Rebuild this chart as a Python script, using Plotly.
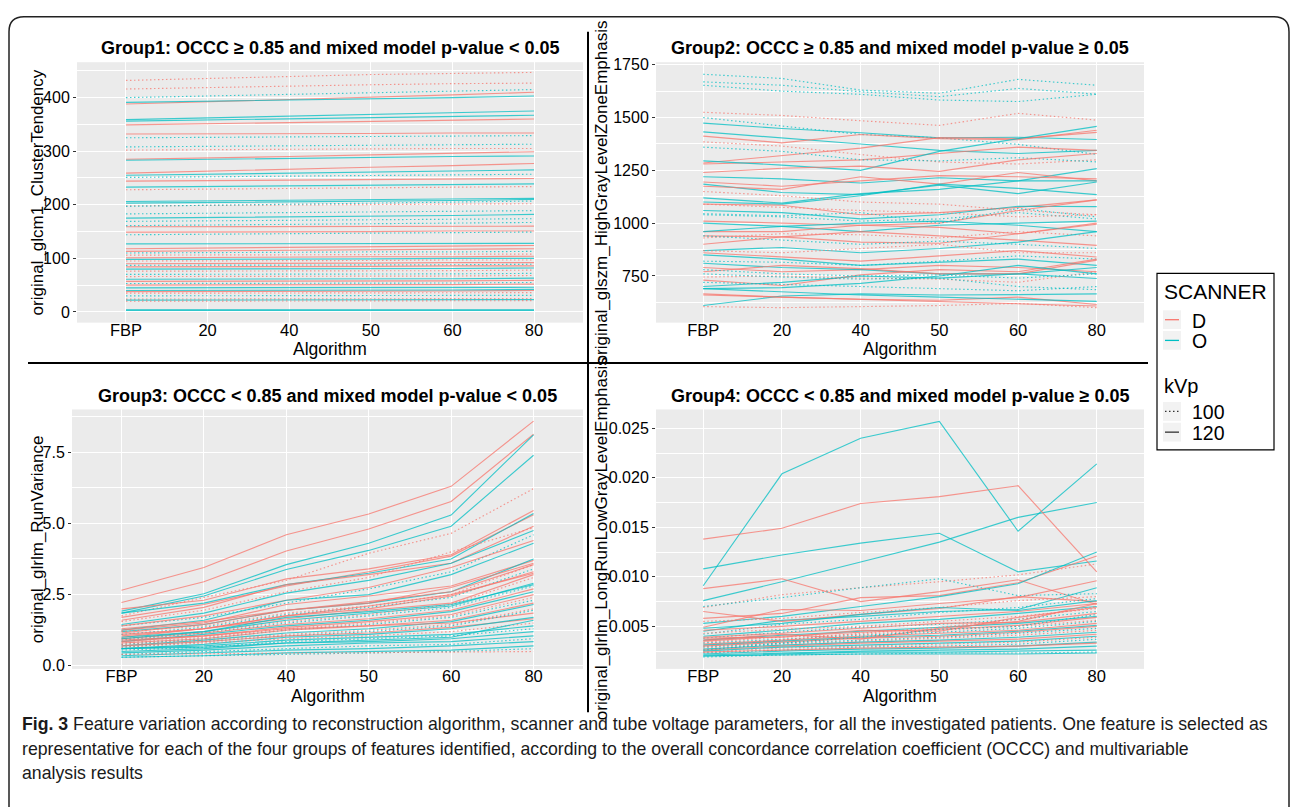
import plotly.graph_objects as go

FONT = "Liberation Sans, Arial, Helvetica, sans-serif"
W, H = 1292, 812

categories = ["FBP", "20", "40", "50", "60", "80"]
scanner_colors = {"D": "#F8766D", "O": "#00BFC4"}
kvp_dash = {"100": "1.5px,2.5px", "120": "solid"}

titles = [
    "Group1: OCCC \u2265 0.85 and mixed model p-value < 0.05",
    "Group2: OCCC \u2265 0.85 and mixed model p-value \u2265 0.05",
    "Group3: OCCC < 0.85 and mixed model p-value < 0.05",
    "Group4: OCCC < 0.85 and mixed model p-value \u2265 0.05",
]
ytitles = [
    "original_glcm1_ClusterTendency",
    "original_glszm_HighGrayLevelZoneEmphasis",
    "original_glrlm_RunVariance",
    "original_glrlm_LongRunLowGrayLevelEmphasis",
]

# ---------------- Group 1 ----------------
g1_scanner = ["D","D","O","D","O","O","O","D","D","O","O","D","D","O","D","O","O","D","O","D",
              "O","O","D","O","O","O","O","D","O","D","O","O","D","D","O","D","D","O","D","D",
              "O","D","O","D","O","D","O","D","O","D","O","D","O","D","O","D","O","D","O","O"]
g1_kvp = ["100","100","100","120","120","120","120","120","120","100","100","100","120","120","120","120","100","120","120","100",
          "120","120","100","100","100","120","100","120","100","120","100","120","120","120","100","100","120","120","100","120",
          "100","120","120","100","100","100","120","120","100","120","120","120","120","100","100","100","120","100","120","120"]
g1_values = [
    [432,436,440,443,445,447],[416,419,422,424,426,427],[400,403,406,409,412,415],[388,392,397,401,405,410],
    [391,393,396,398,400,403],[359,362,365,368,371,375],[356,358,361,363,365,367],[349,351,354,356,358,360],
    [332,332,333,333,334,334],[325,326,327,327,328,329],[308,309,310,311,312,313],[302,303,303,304,305,305],
    [285,287,290,293,296,299],[283,285,287,288,290,291],[259,263,267,270,273,277],[255,257,259,261,263,265],
    [251,252,254,255,256,257],[244,245,246,247,248,249],[233,234,235,236,237,239],[228,229,230,231,232,234],
    [206,207,208,209,210,212],[203,204,205,207,208,210],[198,199,199,200,201,202],[197,199,201,203,205,207],
    [183,184,185,186,187,189],[175,176,177,179,180,182],[169,170,171,172,173,174],[159,159,159,160,160,160],
    [161,162,163,164,165,167],[149,149,150,150,151,151],[144,145,146,147,148,149],[127,127,127,128,128,128],
    [118,119,120,121,122,124],[113,114,115,116,117,118],[110,111,111,112,112,113],[106,106,107,107,108,108],
    [101,102,102,103,103,104],[98,98,99,99,100,100],[95,95,96,96,97,97],[90,90,91,91,92,92],
    [87,87,88,88,88,89],[84,84,85,85,86,86],[80,80,81,81,81,82],[76,76,77,77,77,78],
    [70,70,71,71,71,72],[66,66,67,67,67,68],[61,61,62,62,62,63],[57,57,58,58,58,59],
    [53,53,54,54,54,55],[50,50,51,51,51,52],[45,45,45,46,46,46],[38,38,39,39,39,40],
    [40,40,41,41,41,42],[35,35,35,36,36,36],[30,30,31,31,31,31],[24,24,25,25,25,25],
    [22,22,22,22,23,23],[20,20,20,20,21,21],[4,4,4,4,4,4],[3,3,3,3,3,3],
]

# ---------------- Group 2 ----------------
g2_scanner = ["O","O","O","D","O","O","O","D","D","D","O","D","O","D","O","D","O","D","O","O",
              "D","O","D","O","D","O","D","O","D","D","O","D","O","D","O","O","D","O","D","D",
              "O","D","O","O","O","D","O","D","D","O","O","D","O","D"]
g2_kvp = ["100","100","100","100","100","120","120","120","120","120","120","100","100","120","120","120","120","120","120","120",
          "120","120","100","100","120","120","120","120","120","100","100","120","120","120","120","100","120","120","120","120",
          "120","100","100","120","100","120","120","100","120","120","100","100","100","100"]
g2_values = [
    [1705,1685,1630,1615,1681,1653],[1669,1653,1622,1599,1638,1611],[1653,1625,1610,1583,1576,1610],
    [1525,1510,1485,1463,1520,1488],[1500,1460,1420,1404,1373,1326],[1474,1448,1428,1404,1407,1396],
    [1432,1405,1375,1345,1330,1345],[1412,1380,1420,1400,1395,1440],[1285,1320,1355,1405,1400,1430],
    [1280,1290,1300,1330,1360,1345],[1295,1275,1250,1340,1400,1458],[1385,1365,1325,1290,1280,1300],
    [1360,1340,1300,1295,1310,1290],[1240,1260,1270,1245,1300,1330],[1220,1210,1190,1215,1200,1258],
    [1195,1175,1200,1225,1220,1210],[1185,1145,1135,1180,1140,1195],[1175,1160,1220,1185,1240,1200],
    [1120,1095,1140,1160,1200,1200],[1100,1090,1130,1185,1165,1135],[1090,1085,1040,1050,1075,1110],
    [1060,1050,1020,1040,1080,1078],[1150,1130,1100,1090,1060,1040],[1040,1030,1010,1020,1050,1020],
    [1010,1000,990,1000,1060,1110],[1000,985,960,990,1000,1010],[960,960,990,980,950,1000],
    [960,985,1000,1010,990,960],[940,935,910,905,950,995],[930,950,945,930,960,940],
    [940,920,900,915,900,880],[900,935,960,940,920,895],[870,885,860,880,910,960],
    [860,840,820,845,870,840],[850,830,800,815,830,800],[820,815,800,820,845,830],
    [790,770,780,800,790,770],[810,790,780,760,760,790],[770,800,785,760,760,825],
    [730,705,755,780,770,830],[700,720,750,740,760,738],[745,750,740,735,720,770],
    [780,760,750,755,740,760],[690,695,715,750,800,760],[720,710,700,690,680,700],
    [665,650,640,635,650,615],[610,655,665,660,662,665],[605,600,605,610,620,600],
    [660,650,640,630,620,608],[690,675,660,650,640,630],[760,745,735,740,700,685],
    [1090,1075,1060,1050,1030,1040],[1045,1035,1050,1000,1070,1030],[870,860,880,900,860,860],
]

# ---------------- Group 3 ----------------
g3_scanner = ["D","D","O","O","D","D","D","O","D","O","D","O","D","O","D","O","D","D","O","D",
              "D","O","D","O","D","O","D","D","O","D","O","D","D","O","D","O","D","O","O","O",
              "O","O","O","O","O","D","O","D","O","D"]
g3_kvp = ["120","120","120","120","100","120","120","120","120","120","100","100","120","120","120","120","120","100","100","120",
          "120","120","100","100","120","120","120","100","100","120","120","120","100","100","120","120","100","120","100","120",
          "120","100","120","120","100","100","120","120","120","120"]
g3_values = [
    [2.65,3.45,4.60,5.33,6.30,8.59],[2.22,2.95,4.03,4.80,5.77,8.13],[1.92,2.53,3.55,4.30,5.29,8.11],
    [1.85,2.45,3.38,4.05,4.90,7.39],[1.75,2.40,3.00,3.95,4.65,6.22],[2.00,2.30,3.05,3.40,3.90,5.45],
    [1.70,2.15,2.80,3.30,3.85,5.30],[1.85,2.20,2.85,3.25,3.75,5.35],[1.60,2.05,2.85,3.20,3.60,4.90],
    [1.45,1.85,2.55,3.00,3.60,4.75],[1.55,1.95,2.60,3.10,4.00,4.85],[1.40,1.70,2.20,2.70,3.30,4.60],
    [1.40,1.75,2.30,2.75,3.45,4.40],[1.25,1.60,2.30,2.50,3.20,4.30],[1.25,1.50,2.15,2.45,2.80,3.70],
    [1.20,1.45,1.95,2.20,2.60,3.75],[1.15,1.45,1.95,2.20,2.75,3.60],[1.20,1.40,1.85,2.10,2.50,3.55],
    [1.10,1.35,1.80,2.05,2.40,3.40],[1.05,1.30,1.75,2.00,2.45,3.30],[1.00,1.30,1.65,1.95,2.20,3.20],
    [1.00,1.20,1.60,1.85,2.10,2.90],[0.95,1.20,1.55,1.80,2.15,3.10],[0.90,1.15,1.50,1.75,2.05,2.80],
    [0.95,1.15,1.45,1.65,1.95,2.70],[0.85,1.10,1.40,1.60,1.90,2.60],[0.85,1.05,1.35,1.55,1.80,2.50],
    [0.80,1.00,1.30,1.50,1.75,2.40],[0.75,0.95,1.25,1.45,1.70,2.30],[0.80,0.95,1.25,1.40,1.60,2.20],
    [0.70,0.90,1.15,1.30,1.55,2.15],[0.90,1.05,1.30,1.40,1.50,1.85],[0.75,0.90,1.10,1.25,1.45,2.00],
    [0.65,0.85,1.05,1.20,1.40,1.95],[0.70,0.85,1.05,1.15,1.35,1.65],[0.60,0.75,1.00,1.10,1.30,1.70],
    [0.65,0.80,0.95,1.05,1.20,1.50],[0.60,0.70,0.90,1.00,1.10,1.40],[0.55,0.65,0.85,0.95,1.05,1.30],
    [0.50,0.60,0.80,0.85,0.95,1.20],[0.45,0.55,0.70,0.80,0.85,1.05],[0.40,0.50,0.60,0.70,0.75,0.95],
    [0.35,0.45,0.55,0.60,0.70,0.85],[0.30,0.35,0.45,0.50,0.55,0.70],[0.30,0.35,0.40,0.45,0.50,0.60],
    [0.40,0.42,0.45,0.48,0.50,0.50],[0.60,0.65,0.80,0.90,1.00,1.60],[1.10,1.30,1.75,2.10,2.50,3.25],
    [0.95,1.20,1.70,1.90,2.15,2.85],[1.30,1.55,1.95,2.25,2.60,3.55],
]

# ---------------- Group 4 (values in thousandths) ----------------
g4_scanner = ["O","O","O","D","D","D","O","D","O","D","O","D","D","O","D","O","D","O","D","O",
              "D","D","O","D","O","D","O","D","O","D","O","D","O","O","D","O","O","O","O","D",
              "O","D","O","D"]
g4_kvp = ["120","120","120","120","120","100","100","120","120","120","120","100","120","100","120","120","100","100","120","120",
          "120","100","100","120","120","120","100","100","120","120","120","100","100","120","120","120","120","100","120","120",
          "120","120","100","100"]
g4_values_milli = [
    [9.1,20.4,24.0,25.7,14.6,21.4],[7.6,9.5,11.5,13.5,16.0,17.5],[10.8,12.2,13.4,14.4,10.5,11.6],
    [13.8,14.9,17.4,18.1,19.2,10.5],[8.8,9.8,7.5,8.5,9.7,7.2],[6.9,8.2,8.9,9.5,10.2,11.3],
    [7.0,7.9,8.9,9.8,8.1,8.3],[5.8,6.3,7.9,8.1,9.4,12.1],[5.3,6.0,7.0,8.0,9.3,12.5],
    [4.9,6.7,6.6,7.3,7.9,9.6],[4.5,5.6,6.0,6.5,6.7,8.9],[5.5,5.8,6.4,6.9,7.6,8.0],
    [6.5,5.5,6.2,6.8,8.0,7.5],[4.2,5.2,5.7,6.4,6.9,7.8],[4.6,5.0,5.5,6.0,6.5,7.3],
    [4.0,4.6,5.3,5.7,6.3,7.0],[4.3,4.7,5.0,5.5,6.0,6.8],[3.8,4.4,4.9,5.2,5.7,6.5],
    [3.9,4.3,4.8,5.3,5.4,6.3],[3.6,4.1,4.5,4.9,5.3,6.0],[3.5,4.0,4.4,4.7,5.1,5.9],
    [3.4,3.9,4.2,4.6,5.0,5.6],[3.3,3.7,4.1,4.4,4.8,5.5],[3.2,3.6,4.0,4.3,4.6,5.3],
    [3.1,3.5,3.9,4.1,4.5,5.1],[3.0,3.4,3.8,4.0,4.4,5.0],[2.9,3.3,3.6,3.9,4.3,4.8],
    [2.8,3.2,3.5,3.8,4.1,4.6],[2.7,3.1,3.4,3.6,3.9,4.4],[2.6,3.0,3.3,3.5,3.7,4.2],
    [2.5,2.9,3.1,3.3,3.5,4.0],[2.4,2.8,3.0,3.2,3.4,3.9],[2.3,2.6,2.9,3.0,3.2,3.7],
    [2.2,2.5,2.7,2.8,3.0,3.4],[2.4,2.6,2.8,2.9,3.0,3.3],[2.1,2.3,2.5,2.6,2.7,3.0],
    [2.0,2.2,2.4,2.4,2.5,2.6],[1.9,2.1,2.2,2.3,2.3,2.4],[2.0,2.1,2.2,2.2,2.2,2.3],
    [3.6,4.2,3.7,4.8,5.5,7.3],[4.8,5.3,6.2,6.9,6.6,7.6],[3.8,3.9,4.6,4.5,5.9,6.9],
    [2.6,3.3,3.9,4.7,5.0,6.2],[3.0,3.6,4.3,4.9,5.7,7.0],
]
g4_values = [[v / 1000.0 for v in row] for row in g4_values_milli]

groups = [
    (g1_scanner, g1_kvp, g1_values),
    (g2_scanner, g2_kvp, g2_values),
    (g3_scanner, g3_kvp, g3_values),
    (g4_scanner, g4_kvp, g4_values),
]

legend_scanner = ["D", "O"]
legend_kvp = ["100", "120"]

# ---------------- layout geometry (pixels) ----------------
def px(x):
    return x / W

def py(y):
    return 1 - y / H

panels = [  # left, right, top, bottom of gray plotting area
    (77, 583, 57, 321),
    (656, 1144, 57, 321),
    (72, 583, 409, 672),
    (656, 1144, 409, 672),
]
yranges = [[-20, 466], [529, 1762], [-0.11, 9.0], [0.0007, 0.0269]]
ydticks = [100, 250, 2.5, 0.005]
yformats = ["d", "d", ".1f", ".3f"]
minor_dt = [50, 125, 1.25, 0.0025]

fig = go.Figure()

for i, (sc, kv, vals) in enumerate(groups):
    n = "" if i == 0 else str(i + 1)
    for s, k, v in zip(sc, kv, vals):
        fig.add_trace(go.Scatter(
            x=categories, y=v, mode="lines",
            line=dict(color=scanner_colors[s], width=1.15, dash=kvp_dash[k]),
            opacity=0.75, showlegend=False, hoverinfo="skip",
            xaxis="x" + n, yaxis="y" + n,
        ))

layout = dict(
    width=W, height=H,
    margin=dict(l=0, r=0, t=0, b=0),
    paper_bgcolor="white",
    plot_bgcolor="#EBEBEB",
    font=dict(family=FONT, color="black"),
    showlegend=False,
    annotations=[], shapes=[],
)

for i, (l, r, t, b) in enumerate(panels):
    n = "" if i == 0 else str(i + 1)
    layout["xaxis" + n] = dict(
        domain=[px(l), px(r)], anchor="y" + n, type="category",
        categoryorder="array", categoryarray=categories, range=[-0.6, 5.6],
        showgrid=True, gridcolor="white", gridwidth=1.3, zeroline=False,
        ticks="", ticklabelstandoff=-4,
        tickfont=dict(size=16.5, color="black"), fixedrange=True,
    )
    layout["yaxis" + n] = dict(
        domain=[py(b), py(t)], anchor="x" + n, range=yranges[i],
        dtick=ydticks[i], tick0=0, tickformat=yformats[i],
        showgrid=True, gridcolor="white", gridwidth=1.3, zeroline=False,
        minor=dict(dtick=minor_dt[i], tick0=0, showgrid=True, gridcolor="white", gridwidth=0.6, ticks=""),
        ticks="outside", ticklen=3, tickcolor="#333333",
        tickfont=dict(size=16, color="black"), fixedrange=True,
    )
    cx = (l + r) / 2
    layout["annotations"].append(dict(
        text="<b>" + titles[i] + "</b>", x=px(cx), y=py(t - 14), xref="paper", yref="paper",
        xanchor="center", yanchor="middle", showarrow=False, font=dict(size=18, color="black")))
    layout["annotations"].append(dict(
        text="Algorithm", x=px(cx), y=py(b + 27), xref="paper", yref="paper",
        xanchor="center", yanchor="middle", showarrow=False, font=dict(size=17.5, color="black")))
    ytx = 37 if i in (0, 2) else 601
    layout["annotations"].append(dict(
        text=ytitles[i], x=px(ytx), y=py((t + b) / 2), xref="paper", yref="paper",
        xanchor="center", yanchor="middle", textangle=-90, showarrow=False,
        font=dict(size=17, color="black")))

# divider lines
layout["shapes"].append(dict(type="line", xref="paper", yref="paper",
                             x0=px(588), x1=px(588), y0=py(26), y1=py(716),
                             line=dict(color="black", width=2)))
layout["shapes"].append(dict(type="line", xref="paper", yref="paper",
                             x0=px(28), x1=px(1148), y0=py(362), y1=py(362),
                             line=dict(color="black", width=2)))
# outer rounded frame
r0 = 15
path = (f"M {px(9)},{py(812)} L {px(9)},{py(11 + r0)} "
        f"Q {px(9)},{py(11)} {px(9 + r0)},{py(11)} "
        f"L {px(1289 - r0)},{py(11)} Q {px(1289)},{py(11)} {px(1289)},{py(11 + r0)} "
        f"L {px(1289)},{py(812)}")
layout["shapes"].append(dict(type="path", xref="paper", yref="paper", path=path,
                             line=dict(color="#222222", width=1.5)))

# ---------------- legend (drawn as a ggplot-style key box) ----------------
layout["shapes"].append(dict(type="rect", xref="paper", yref="paper",
                             x0=px(1157), x1=px(1274), y0=py(271), y1=py(450),
                             line=dict(color="black", width=1.2), fillcolor="white"))
layout["annotations"].append(dict(text="SCANNER", x=px(1162), y=py(289), xref="paper", yref="paper",
                                  xanchor="left", yanchor="middle", showarrow=False,
                                  font=dict(size=21, color="black")))
layout["annotations"].append(dict(text="kVp", x=px(1162), y=py(385), xref="paper", yref="paper",
                                  xanchor="left", yanchor="middle", showarrow=False,
                                  font=dict(size=20, color="black")))
key_rows = [(legend_scanner[0], 318, scanner_colors["D"], "solid"),
            (legend_scanner[1], 339, scanner_colors["O"], "solid"),
            (legend_kvp[0], 411, "#333333", kvp_dash["100"]),
            (legend_kvp[1], 432, "#333333", "solid")]
for label, yc, col, dash in key_rows:
    layout["shapes"].append(dict(type="rect", xref="paper", yref="paper",
                                 x0=px(1163), x1=px(1181), y0=py(yc - 9.5), y1=py(yc + 9.5),
                                 line=dict(width=0), fillcolor="#F2F2F2"))
    layout["shapes"].append(dict(type="line", xref="paper", yref="paper",
                                 x0=px(1165), x1=px(1179), y0=py(yc), y1=py(yc),
                                 line=dict(color=col, width=1.3, dash=dash)))
    layout["annotations"].append(dict(text=label, x=px(1190), y=py(yc + 1), xref="paper", yref="paper",
                                      xanchor="left", yanchor="middle", showarrow=False,
                                      font=dict(size=19.5, color="black")))

# caption
cap_lines = [
    "<b>Fig. 3</b> Feature variation according to reconstruction algorithm, scanner and tube voltage parameters, for all the investigated patients. One feature is selected as",
    "representative for each of the four groups of features identified, according to the overall concordance correlation coefficient (OCCC) and multivariable",
    "analysis results",
]
cap_y = [728, 753, 778]
for txt, yy in zip(cap_lines, cap_y):
    layout["annotations"].append(dict(
        text=txt, x=px(20), y=py(yy), xref="paper", yref="paper",
        xanchor="left", yanchor="middle", showarrow=False,
        font=dict(size=17.7, color="#1a1a1a", family=FONT)))

fig.update_layout(**layout)
fig.write_html("out.html", config={"displayModeBar": False},
               post_script="document.body.style.margin='0';document.body.style.overflow='hidden';")
